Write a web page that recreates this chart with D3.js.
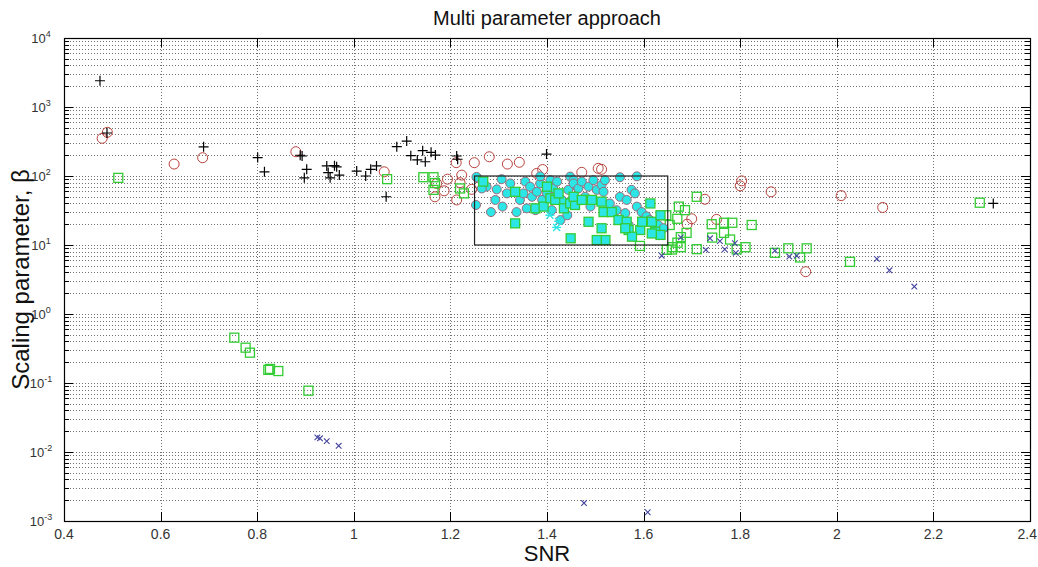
<!DOCTYPE html>
<html><head><meta charset="utf-8">
<script src="https://cdn.jsdelivr.net/npm/d3@7/dist/d3.min.js"></script>
<style>body{margin:0;background:#fff}svg{display:block;font-family:"Liberation Sans",Arial,sans-serif}</style>
</head><body><svg id="c" width="1038" height="567"></svg>
<script>
const title = "Multi parameter approach";
const xLabel = "SNR";
const yLabel = "Scaling parameter, β";
const xTicks = [0.4,0.6,0.8,1,1.2,1.4,1.6,1.8,2,2.2,2.4];
const xTickLabels = ["0.4","0.6","0.8","1","1.2","1.4","1.6","1.8","2","2.2","2.4"];
const yExponents = [-3,-2,-1,0,1,2,3,4];
const boxX = [1.25,1.65];
const boxY = [10,100];

const plusPts = [[0.4745,2400],[0.489,420],[0.689,265],[0.801,185],[0.815,115],[0.889,200],[0.893,195],[0.9025,125],[0.8975,94],[0.944,140],[0.947,112],[0.951,94],[0.960,141],[0.9645,136],[0.970,103],[1.006,118],[1.0246,100],[1.035,125],[1.047,140],[1.067,50],[1.089,266],[1.1095,321],[1.118,197],[1.1315,171],[1.1426,233],[1.148,161],[1.16,220],[1.169,201],[1.213,195],[1.215,175],[1.399,208],[2.324,40]];
const circlePts = [[0.479,352],[0.4897,430],[0.628,149],[0.687,184],[0.88,225],[1.063,115],[1.168,50],[1.194,90],[1.187,61],[1.213,45],[1.212,156],[1.1715,78],[1.2234,103],[1.22,80],[1.2495,156],[1.244,64],[1.2805,190],[1.318,149],[1.3427,158],[1.3787,109],[1.391,124],[1.472,113],[1.506,129],[1.513,125],[1.803,85],[1.80,72],[1.864,59],[2.009,52],[1.727,46],[1.6996,24],[1.69,20],[1.751,23.5],[1.9356,4.1],[2.095,35]];
const squarePts = [[0.5124,94],[0.7526,0.454],[0.776,0.325],[0.785,0.275],[0.8265,0.16],[0.823,0.155],[0.8437,0.149],[0.906,0.0774],[1.069,90],[1.144,96],[1.165,96],[1.168,79],[1.165,63],[1.22,66],[1.228,56],[1.71,50],[1.673,36],[1.6857,32],[1.6698,24],[1.689,15],[1.677,13],[1.67,10.8],[1.66,9.3],[1.648,8.5],[1.6585,8.6],[1.677,9.3],[1.5925,9.7],[1.71,8.7],[1.741,20],[1.7665,21],[1.7836,21],[1.7665,15],[1.779,12],[1.742,12.8],[1.8238,19.5],[1.7927,8.65],[1.811,9.3],[1.872,7.7],[1.8996,8.95],[1.924,6.6],[1.9376,8.95],[2.0273,5.7],[2.296,41],[1.647,27],[1.654,19.5]];
const crossPts = [[0.9245,0.0163],[0.930,0.0158],[0.944,0.0144],[0.9687,0.0123],[1.4766,0.00182],[1.6085,0.00134],[1.6375,7.0],[1.677,12.9],[1.7375,12.5],[1.729,8.5],[1.758,11.4],[1.768,8.65],[1.789,10.6],[1.791,7.7],[1.872,8.3],[1.9017,6.8],[1.917,7.0],[2.083,6.3],[2.109,4.3],[2.1605,2.5]];
const cyanCirclePts = [[1.256,93],[1.268,78],[1.275,70],[1.265,66],[1.253,38],[1.284,30],[1.293,45],[1.296,64],[1.306,90],[1.308,36],[1.317,56],[1.324,78],[1.337,30],[1.344,45],[1.351,56],[1.355,83],[1.358,34],[1.365,70],[1.369,50],[1.376,32],[1.379,59],[1.386,78],[1.39,45],[1.40,56],[1.407,87],[1.413,66],[1.41,32],[1.421,83],[1.428,23],[1.431,45],[1.442,27],[1.444,63],[1.448,98],[1.451,45],[1.462,70],[1.455,87],[1.455,78],[1.465,66],[1.472,83],[1.486,70],[1.479,50],[1.496,87],[1.503,63],[1.513,74],[1.517,59],[1.520,87],[1.551,96],[1.586,99],[1.530,40],[1.544,32],[1.551,50],[1.565,45],[1.575,63],[1.582,56],[1.586,36],[1.596,30],[1.606,26],[1.613,23],[1.623,18.4],[1.630,19.5],[1.641,17.5],[1.569,19.5],[1.562,29],[1.490,36],[1.462,45],[1.254,97],[1.386,99]];
const cyanSquarePts = [[1.268,83],[1.334,59],[1.334,20.6],[1.376,34],[1.393,36],[1.407,47.5],[1.417,45],[1.424,56],[1.435,34],[1.448,40],[1.458,38],[1.449,12.5],[1.400,70],[1.455,50],[1.472,45],[1.493,45],[1.513,42.5],[1.517,30],[1.486,21.7],[1.513,17.5],[1.534,30],[1.548,23],[1.565,21.7],[1.569,16.5],[1.593,16.5],[1.576,13.2],[1.597,21.7],[1.614,40],[1.617,21.7],[1.624,15.6],[1.635,14],[1.635,27],[1.521,11.8],[1.503,11.8],[1.562,17.5],[1.617,14.7]];
const cyanCrossPts = [[1.42,18],[1.424,22],[1.406,27]];

const W=1038,H=567, L=64, R=1030, T=38, B=521;
const svg = d3.select("#c");
const x = d3.scaleLinear().domain([0.4,2.4]).range([L,R]);
const y = d3.scaleLog().domain([1e-3,1e4]).range([B,T]);

const minorVals = [];
for (let e=-3;e<4;e++) for (let m=2;m<=9;m++) minorVals.push(m*Math.pow(10,e));
const majorVals = yExponents.map(e=>Math.pow(10,e));

const grid = svg.append("g").attr("stroke","#444").attr("stroke-width",1).attr("stroke-dasharray","1,2").attr("opacity",0.75);
grid.selectAll(".hg").data(minorVals.concat(majorVals)).join("line")
  .attr("x1",L).attr("x2",R).attr("y1",d=>Math.round(y(d))+0.5).attr("y2",d=>Math.round(y(d))+0.5);
grid.selectAll(".vg").data(xTicks.slice(1,-1)).join("line")
  .attr("y1",T).attr("y2",B).attr("x1",d=>Math.round(x(d))+0.5).attr("x2",d=>Math.round(x(d))+0.5);

const tk = svg.append("g").attr("stroke","#000").attr("stroke-width",1);
xTicks.forEach(v=>{const px=Math.round(x(v))+0.5;
  tk.append("line").attr("x1",px).attr("x2",px).attr("y1",B).attr("y2",B-9);
  tk.append("line").attr("x1",px).attr("x2",px).attr("y1",T).attr("y2",T+9);});
majorVals.forEach(v=>{const py=Math.round(y(v))+0.5;
  tk.append("line").attr("x1",L).attr("x2",L+9).attr("y1",py).attr("y2",py);
  tk.append("line").attr("x1",R).attr("x2",R-9).attr("y1",py).attr("y2",py);});
minorVals.forEach(v=>{const py=Math.round(y(v))+0.5;
  tk.append("line").attr("x1",L).attr("x2",L+5).attr("y1",py).attr("y2",py);
  tk.append("line").attr("x1",R).attr("x2",R-5).attr("y1",py).attr("y2",py);});

const last = xTicks.length-1;
svg.append("g").selectAll("text").data(xTicks).join("text")
  .attr("x",(d,i)=>i===last?1037:x(d)).attr("y",B+18)
  .attr("text-anchor",(d,i)=>i===last?"end":"middle")
  .attr("font-size",14).attr("fill","#333").text((d,i)=>xTickLabels[i]);
const yl = svg.append("g").selectAll("text").data(yExponents).join("text")
  .attr("x",L-23).attr("y",d=>y(Math.pow(10,d))+5).attr("text-anchor","middle")
  .attr("font-size",13).attr("fill","#333");
yl.append("tspan").text("10");
yl.append("tspan").attr("dy",-6).attr("font-size",9).text(d=>d);

const g = svg.append("g");
g.selectAll(".rc").data(circlePts).join("circle")
  .attr("cx",d=>x(d[0])).attr("cy",d=>y(d[1])).attr("r",5)
  .attr("fill","none").attr("stroke","#b8423c").attr("stroke-width",1);
g.selectAll(".pl").data(plusPts).join("path")
  .attr("d",d=>{const a=x(d[0]),b=y(d[1]);return `M${a-5},${b}H${a+5}M${a},${b-5}V${b+5}`;})
  .attr("stroke","#000").attr("stroke-width",1.2).attr("fill","none");
g.selectAll(".sq").data(squarePts).join("rect")
  .attr("x",d=>x(d[0])-4.5).attr("y",d=>y(d[1])-4.5).attr("width",9).attr("height",9)
  .attr("fill","none").attr("stroke","#33cc33").attr("stroke-width",1.3);
g.selectAll(".cx").data(crossPts).join("path")
  .attr("d",d=>{const a=x(d[0]),b=y(d[1]),s=2.8;return `M${a-s},${b-s}L${a+s},${b+s}M${a-s},${b+s}L${a+s},${b-s}`;})
  .attr("stroke","#4646a0").attr("stroke-width",1.1).attr("fill","none");
g.selectAll(".cc").data(cyanCirclePts).join("circle")
  .attr("cx",d=>x(d[0])).attr("cy",d=>y(d[1])).attr("r",4.5)
  .attr("fill","#2ce6e6").attr("stroke","#9a6a7c").attr("stroke-width",1);
g.selectAll(".cs").data(cyanSquarePts).join("rect")
  .attr("x",d=>x(d[0])-4.5).attr("y",d=>y(d[1])-4.5).attr("width",9).attr("height",9)
  .attr("fill","#2ce6e6").attr("stroke","#33cc33").attr("stroke-width",1.3);
g.selectAll(".ck").data(cyanCrossPts).join("path")
  .attr("d",d=>{const a=x(d[0]),b=y(d[1]),s=3.5;return `M${a-s},${b-s}L${a+s},${b+s}M${a-s},${b+s}L${a+s},${b-s}M${a-4.5},${b}H${a+4.5}`;})
  .attr("stroke","#2ce6e6").attr("stroke-width",1.4).attr("fill","none");

svg.append("rect").attr("x",x(boxX[0])).attr("y",y(boxY[1]))
  .attr("width",x(boxX[1])-x(boxX[0])).attr("height",y(boxY[0])-y(boxY[1]))
  .attr("fill","none").attr("stroke","#222").attr("stroke-width",1.2);

svg.append("rect").attr("x",L+0.5).attr("y",T+0.5).attr("width",R-L).attr("height",B-T)
  .attr("fill","none").attr("stroke","#000").attr("stroke-width",1.2);

svg.append("text").attr("x",(L+R)/2).attr("y",25).attr("text-anchor","middle")
  .attr("font-size",20).attr("fill","#111").text(title);
svg.append("text").attr("x",(L+R)/2).attr("y",561).attr("text-anchor","middle")
  .attr("font-size",22).attr("fill","#111").text(xLabel);
svg.append("text").attr("transform",`translate(29,${(T+B)/2}) rotate(-90)`).attr("text-anchor","middle")
  .attr("font-size",24).attr("fill","#111").text(yLabel);
</script></body></html>
